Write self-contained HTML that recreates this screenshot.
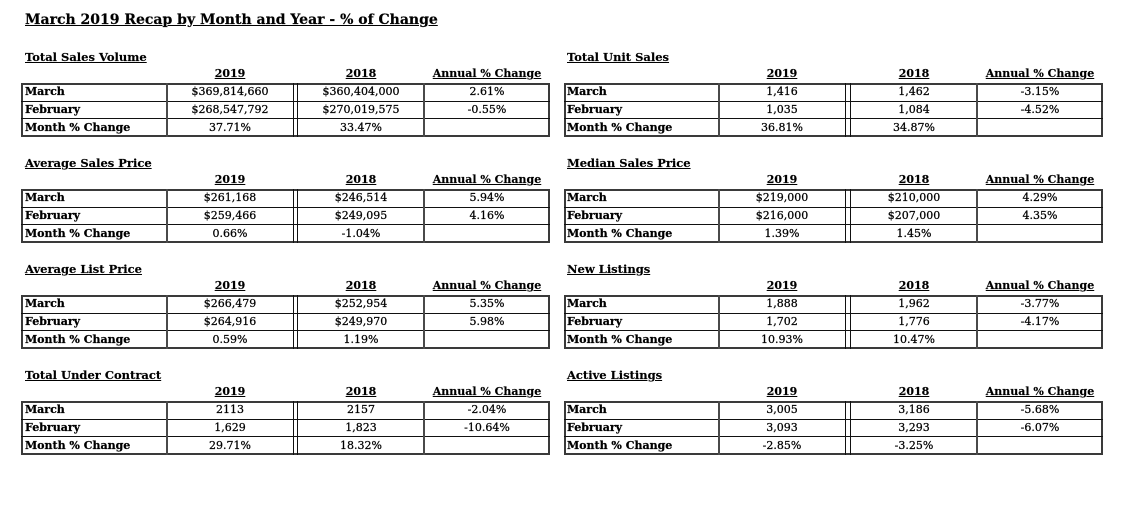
<!DOCTYPE html>
<html><head><meta charset="utf-8">
<style>
html,body{margin:0;padding:0;background:#fff;}
body{width:1129px;height:524px;position:relative;overflow:hidden;font-family:"DejaVu Serif","Liberation Serif",serif;color:#000;}
.title{position:absolute;left:25px;top:10px;font-size:14px;font-weight:bold;line-height:20px;text-decoration:underline;white-space:nowrap;-webkit-text-stroke:0.2px #000;}
.s{position:absolute;height:54px;}
.L{width:529px;}
.R{width:539px;}
.box{position:absolute;left:0;top:0;right:0;bottom:0;border:2px solid #3a3a3a;box-sizing:border-box;}
.h{position:absolute;left:0;right:0;height:1px;background:#111;}
.v{position:absolute;top:0;bottom:0;width:2px;background:#4a4a4a;}
.d{position:absolute;top:0;bottom:0;width:1px;background:#111;}
.ttl{position:absolute;top:-35px;font-size:11.5px;font-weight:bold;line-height:18px;text-decoration:underline;white-space:nowrap;-webkit-text-stroke:0.15px #000;}
.L .ttl{left:4px;} .R .ttl{left:3px;}
.row,.hd{position:absolute;left:0;right:0;height:18px;line-height:18px;font-size:11px;white-space:nowrap;-webkit-text-stroke:0.25px #000;}
.hd{top:-18px;font-weight:bold;-webkit-text-stroke:0.15px #000;}
.hd span{text-decoration:underline;}
.row span,.hd span{position:absolute;top:0;text-align:center;}
.row span.lb{font-weight:bold;text-align:left;}
.L .lb{left:4px;} .R .lb{left:3px;}
.L .c1{left:146px;width:126px;} .L .c2{left:277px;width:126px;} .L .c3{left:403px;width:126px;}
.R .c1{left:155px;width:126px;} .R .c2{left:287px;width:126px;} .R .c3{left:413px;width:126px;}
.r1{top:0;} .r2{top:17.5px;} .r3{top:35.5px;}
</style></head><body>
<div class="title">March 2019 Recap by Month and Year - % of Change</div>

<!-- LEFT 1 -->
<div class="s L" style="left:21px;top:83px">
<div class="ttl">Total Sales Volume</div>
<div class="hd"><span class="c1">2019</span><span class="c2">2018</span><span class="c3">Annual % Change</span></div>
<div class="box"></div><div class="h" style="top:18px"></div><div class="h" style="top:35px"></div>
<div class="v" style="left:145px"></div><div class="d" style="left:272px"></div><div class="d" style="left:276px"></div><div class="v" style="left:402px"></div>
<div class="row r1"><span class="lb">March</span><span class="c1">$369,814,660</span><span class="c2">$360,404,000</span><span class="c3">2.61%</span></div>
<div class="row r2"><span class="lb">February</span><span class="c1">$268,547,792</span><span class="c2">$270,019,575</span><span class="c3">-0.55%</span></div>
<div class="row r3"><span class="lb">Month % Change</span><span class="c1">37.71%</span><span class="c2">33.47%</span></div>
</div>

<!-- LEFT 2 -->
<div class="s L" style="left:21px;top:189px">
<div class="ttl">Average Sales Price</div>
<div class="hd"><span class="c1">2019</span><span class="c2">2018</span><span class="c3">Annual % Change</span></div>
<div class="box"></div><div class="h" style="top:18px"></div><div class="h" style="top:35px"></div>
<div class="v" style="left:145px"></div><div class="d" style="left:272px"></div><div class="d" style="left:276px"></div><div class="v" style="left:402px"></div>
<div class="row r1"><span class="lb">March</span><span class="c1">$261,168</span><span class="c2">$246,514</span><span class="c3">5.94%</span></div>
<div class="row r2"><span class="lb">February</span><span class="c1">$259,466</span><span class="c2">$249,095</span><span class="c3">4.16%</span></div>
<div class="row r3"><span class="lb">Month % Change</span><span class="c1">0.66%</span><span class="c2">-1.04%</span></div>
</div>

<!-- LEFT 3 -->
<div class="s L" style="left:21px;top:295px">
<div class="ttl">Average List Price</div>
<div class="hd"><span class="c1">2019</span><span class="c2">2018</span><span class="c3">Annual % Change</span></div>
<div class="box"></div><div class="h" style="top:18px"></div><div class="h" style="top:35px"></div>
<div class="v" style="left:145px"></div><div class="d" style="left:272px"></div><div class="d" style="left:276px"></div><div class="v" style="left:402px"></div>
<div class="row r1"><span class="lb">March</span><span class="c1">$266,479</span><span class="c2">$252,954</span><span class="c3">5.35%</span></div>
<div class="row r2"><span class="lb">February</span><span class="c1">$264,916</span><span class="c2">$249,970</span><span class="c3">5.98%</span></div>
<div class="row r3"><span class="lb">Month % Change</span><span class="c1">0.59%</span><span class="c2">1.19%</span></div>
</div>

<!-- LEFT 4 -->
<div class="s L" style="left:21px;top:401px">
<div class="ttl">Total Under Contract</div>
<div class="hd"><span class="c1">2019</span><span class="c2">2018</span><span class="c3">Annual % Change</span></div>
<div class="box"></div><div class="h" style="top:18px"></div><div class="h" style="top:35px"></div>
<div class="v" style="left:145px"></div><div class="d" style="left:272px"></div><div class="d" style="left:276px"></div><div class="v" style="left:402px"></div>
<div class="row r1"><span class="lb">March</span><span class="c1">2113</span><span class="c2">2157</span><span class="c3">-2.04%</span></div>
<div class="row r2"><span class="lb">February</span><span class="c1">1,629</span><span class="c2">1,823</span><span class="c3">-10.64%</span></div>
<div class="row r3"><span class="lb">Month % Change</span><span class="c1">29.71%</span><span class="c2">18.32%</span></div>
</div>

<!-- RIGHT 1 -->
<div class="s R" style="left:564px;top:83px">
<div class="ttl">Total Unit Sales</div>
<div class="hd"><span class="c1">2019</span><span class="c2">2018</span><span class="c3">Annual % Change</span></div>
<div class="box"></div><div class="h" style="top:18px"></div><div class="h" style="top:35px"></div>
<div class="v" style="left:154px"></div><div class="d" style="left:281px"></div><div class="d" style="left:286px"></div><div class="v" style="left:412px"></div>
<div class="row r1"><span class="lb">March</span><span class="c1">1,416</span><span class="c2">1,462</span><span class="c3">-3.15%</span></div>
<div class="row r2"><span class="lb">February</span><span class="c1">1,035</span><span class="c2">1,084</span><span class="c3">-4.52%</span></div>
<div class="row r3"><span class="lb">Month % Change</span><span class="c1">36.81%</span><span class="c2">34.87%</span></div>
</div>

<!-- RIGHT 2 -->
<div class="s R" style="left:564px;top:189px">
<div class="ttl">Median Sales Price</div>
<div class="hd"><span class="c1">2019</span><span class="c2">2018</span><span class="c3">Annual % Change</span></div>
<div class="box"></div><div class="h" style="top:18px"></div><div class="h" style="top:35px"></div>
<div class="v" style="left:154px"></div><div class="d" style="left:281px"></div><div class="d" style="left:286px"></div><div class="v" style="left:412px"></div>
<div class="row r1"><span class="lb">March</span><span class="c1">$219,000</span><span class="c2">$210,000</span><span class="c3">4.29%</span></div>
<div class="row r2"><span class="lb">February</span><span class="c1">$216,000</span><span class="c2">$207,000</span><span class="c3">4.35%</span></div>
<div class="row r3"><span class="lb">Month % Change</span><span class="c1">1.39%</span><span class="c2">1.45%</span></div>
</div>

<!-- RIGHT 3 -->
<div class="s R" style="left:564px;top:295px">
<div class="ttl">New Listings</div>
<div class="hd"><span class="c1">2019</span><span class="c2">2018</span><span class="c3">Annual % Change</span></div>
<div class="box"></div><div class="h" style="top:18px"></div><div class="h" style="top:35px"></div>
<div class="v" style="left:154px"></div><div class="d" style="left:281px"></div><div class="d" style="left:286px"></div><div class="v" style="left:412px"></div>
<div class="row r1"><span class="lb">March</span><span class="c1">1,888</span><span class="c2">1,962</span><span class="c3">-3.77%</span></div>
<div class="row r2"><span class="lb">February</span><span class="c1">1,702</span><span class="c2">1,776</span><span class="c3">-4.17%</span></div>
<div class="row r3"><span class="lb">Month % Change</span><span class="c1">10.93%</span><span class="c2">10.47%</span></div>
</div>

<!-- RIGHT 4 -->
<div class="s R" style="left:564px;top:401px">
<div class="ttl">Active Listings</div>
<div class="hd"><span class="c1">2019</span><span class="c2">2018</span><span class="c3">Annual % Change</span></div>
<div class="box"></div><div class="h" style="top:18px"></div><div class="h" style="top:35px"></div>
<div class="v" style="left:154px"></div><div class="d" style="left:281px"></div><div class="d" style="left:286px"></div><div class="v" style="left:412px"></div>
<div class="row r1"><span class="lb">March</span><span class="c1">3,005</span><span class="c2">3,186</span><span class="c3">-5.68%</span></div>
<div class="row r2"><span class="lb">February</span><span class="c1">3,093</span><span class="c2">3,293</span><span class="c3">-6.07%</span></div>
<div class="row r3"><span class="lb">Month % Change</span><span class="c1">-2.85%</span><span class="c2">-3.25%</span></div>
</div>

</body></html>
